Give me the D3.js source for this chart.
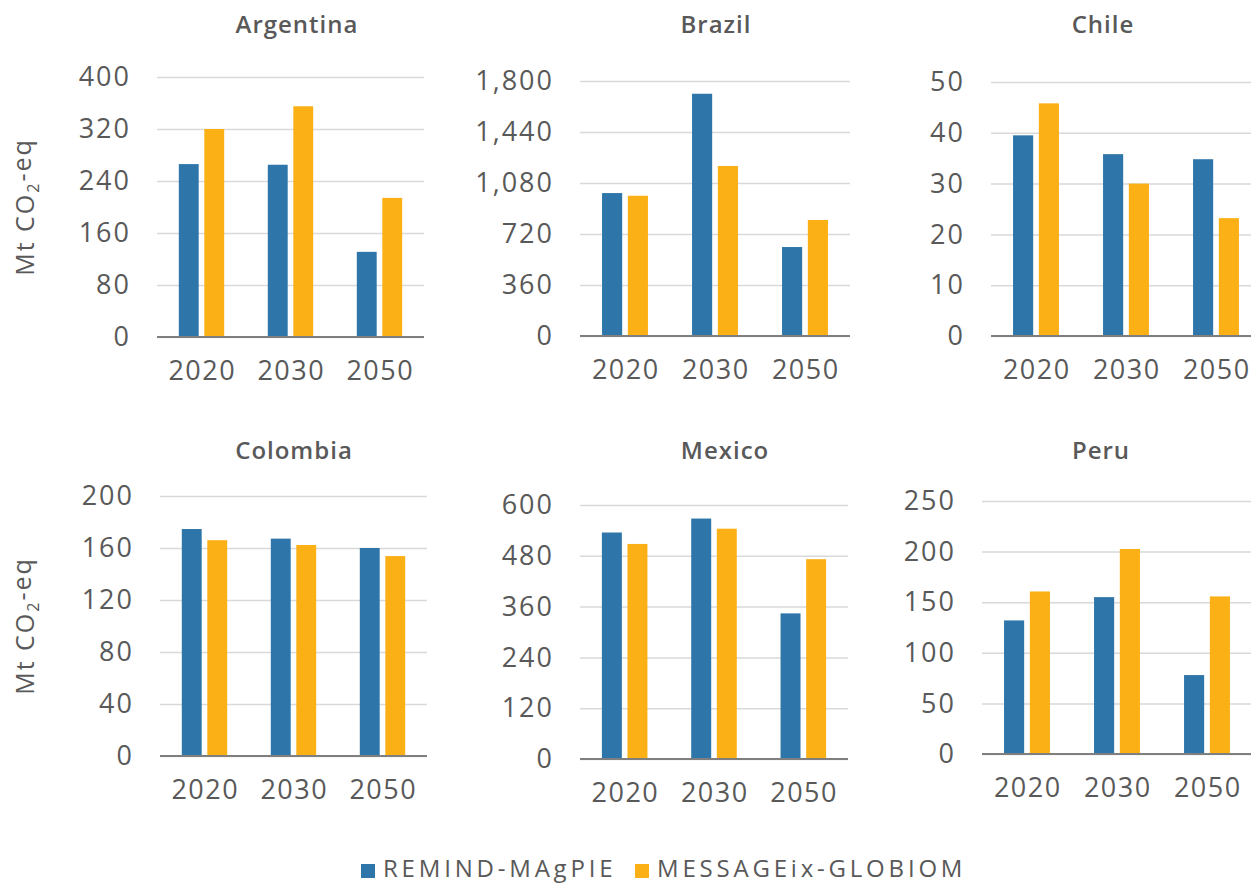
<!DOCTYPE html>
<html>
<head>
<meta charset="utf-8">
<script src="https://cdn.jsdelivr.net/npm/d3@7"></script>
<style>
    body { margin: 0; background: #fff; }
    text { font-family: "Open Sans", sans-serif; fill: #595959; }
</style>
</head>
<body>
<script>
var w = 1251;
var h = 884;

// chart values
const countries = ["Argentina", "Brazil", "Chile", "Colombia", "Mexico", "Peru"];
const years = ["2020", "2030", "2050"];
const seriesNames = ["REMIND-MAgPIE", "MESSAGEix-GLOBIOM"];
const remindValues = [
    [266, 265, 131],
    [1009, 1710, 628],
    [39.5, 35.8, 34.8],
    [174.6, 167.2, 160],
    [535, 568, 344],
    [132, 155, 78]
];
const messageValues = [
    [320, 355, 214],
    [990, 1200, 819],
    [45.8, 30, 23.2],
    [166, 162.3, 153.8],
    [508, 544, 472],
    [160.6, 202.6, 155.7]
];
const yTicks = [
    [0, 80, 160, 240, 320, 400],
    [0, 360, 720, 1080, 1440, 1800],
    [0, 10, 20, 30, 40, 50],
    [0, 40, 80, 120, 160, 200],
    [0, 120, 240, 360, 480, 600],
    [0, 50, 100, 150, 200, 250]
];
const yLabel = "Mt CO";

var colors = ["#2e75a9", "#fbb116"];

// panel frames: left, right, top, bottom, title x, title y
var frames = [
    [157, 424, 77, 337, 297, 25],
    [580, 850, 81, 336, 716, 25],
    [991, 1261, 82, 336, 1103, 25],
    [160, 427, 496, 756, 294, 451],
    [580, 848, 505, 759, 725, 451],
    [982, 1252, 501, 754, 1101, 451]
];

var svg = d3.select("body").append("svg").attr("width", w).attr("height", h);
var fmt = d3.format(",");

countries.forEach(function (country, i) {
    var f = frames[i];
    var g = svg.append("g");

    var x0 = d3.scaleBand().domain(years).range([f[0], f[1]])
        .paddingInner(0.49).paddingOuter(0.245);
    var x1 = d3.scaleBand().domain(seriesNames).range([0, x0.bandwidth()])
        .paddingInner(0.22);
    var ticks = yTicks[i];
    var y = d3.scaleLinear().domain([0, ticks[ticks.length - 1]]).range([f[3], f[2]]);

    // gridlines
    var yAxis = d3.axisLeft(y).tickValues(ticks).tickSize(-(f[1] - f[0]))
        .tickPadding(26).tickFormat(fmt);
    var ya = g.append("g").attr("transform", "translate(" + f[0] + ",0)").call(yAxis);
    ya.select(".domain").remove();
    ya.selectAll(".tick line").attr("stroke", "#d9d9d9").attr("stroke-width", 1.5);
    ya.selectAll(".tick text").attr("font-size", 27).style("letter-spacing", "2px")
        .attr("fill", "#595959");

    var rows = years.map(function (yr, j) {
        return { year: yr, vals: [remindValues[i][j], messageValues[i][j]] };
    });

    var grp = g.selectAll(".grp").data(rows).enter().append("g")
        .attr("transform", function (d) { return "translate(" + x0(d.year) + ",0)"; });
    grp.selectAll("rect")
        .data(function (d) { return d.vals.map(function (v, k) { return { name: seriesNames[k], v: v, k: k }; }); })
        .enter().append("rect")
        .attr("x", function (d) { return x1(d.name); })
        .attr("width", x1.bandwidth())
        .attr("y", function (d) { return y(d.v); })
        .attr("height", function (d) { return f[3] - y(d.v); })
        .attr("fill", function (d) { return colors[d.k]; });

    // baseline + year labels
    var xAxis = d3.axisBottom(x0).tickSize(0).tickPadding(24);
    var xa = g.append("g").attr("transform", "translate(0," + f[3] + ")").call(xAxis);
    xa.select(".domain").attr("stroke", "#7f7f7f").attr("stroke-width", 2)
        .attr("d", "M" + f[0] + ",0H" + f[1]);
    xa.selectAll(".tick text").attr("font-size", 27).style("letter-spacing", "1.5px")
        .attr("dx", "0.75px").attr("fill", "#595959");

    g.append("text")
        .attr("x", f[4]).attr("y", f[5])
        .attr("dy", "0.35em")
        .attr("text-anchor", "middle")
        .attr("font-size", 24)
        .attr("font-weight", 600)
        .style("letter-spacing", "1px")
        .text(country);

    if (i % 3 == 0) {
        var lbl = g.append("text")
            .attr("transform", "translate(25," + ((f[2] + f[3]) / 2) + ") rotate(-90)")
            .attr("text-anchor", "middle")
            .attr("dy", "0.35em")
            .attr("font-size", 25)
            .style("letter-spacing", "2px");
        lbl.append("tspan").text(yLabel);
        lbl.append("tspan").attr("font-size", 16).attr("dy", "0.3em").text("2");
        lbl.append("tspan").attr("dy", "-0.3em").text("-eq");
    }
});

// legend
var legendX = [361, 635];
var legend = svg.selectAll(".legend").data(seriesNames).enter().append("g")
    .attr("transform", function (d, i) { return "translate(" + legendX[i] + ",869)"; });
legend.append("rect").attr("x", 0).attr("y", -5).attr("width", 14).attr("height", 14)
    .attr("fill", function (d, i) { return colors[i]; });
legend.append("text").attr("x", 22).attr("y", 0).attr("dy", "0.35em")
    .attr("font-size", 24).style("letter-spacing", "3.8px")
    .text(function (d) { return d; });
</script>
</body>
</html>
